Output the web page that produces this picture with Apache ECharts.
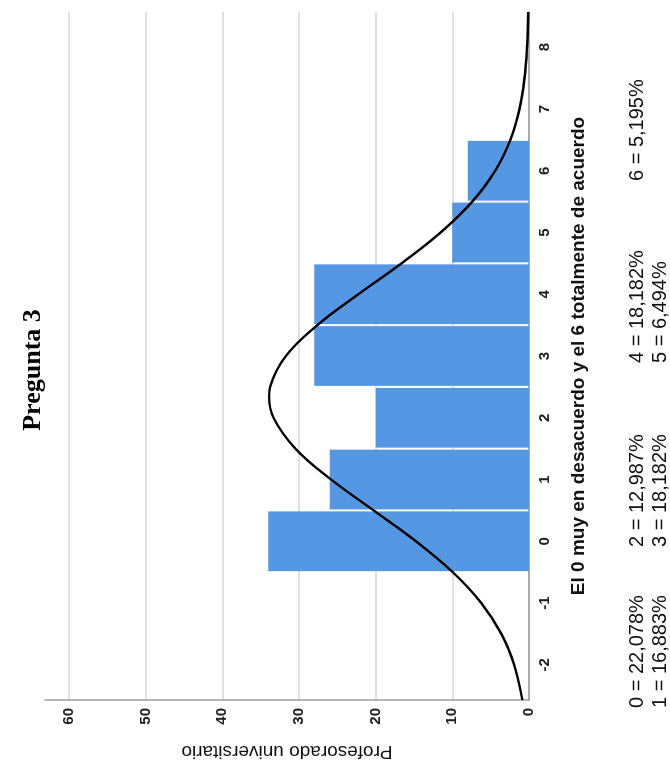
<!DOCTYPE html>
<html>
<head>
<meta charset="utf-8">
<script src="https://cdn.jsdelivr.net/npm/echarts@6/dist/echarts.min.js"></script>
<style>
  html, body { margin: 0; padding: 0; background: #ffffff; overflow: hidden; }
  #page { position: absolute; left: 0; top: 0; width: 670px; height: 765px; overflow: hidden; }
  /* the histogram is laid out landscape and turned a quarter turn counter-clockwise */
  #chart {
    position: absolute; left: 0; top: 0; width: 765px; height: 670px;
    transform-origin: 0 0; transform: translate(0, 765px) rotate(-90deg);
  }
</style>
</head>
<body>
<div id="page"><div id="chart"></div></div>
<script>
// answer scores (0 = muy en desacuerdo ... 6 = totalmente de acuerdo)
const scores = [0, 1, 2, 3, 4, 5, 6];
// respondents per score
const counts = [34, 26, 20, 28, 28, 10, 8];

// fitted normal curve, sampled along the score axis
const curveScore = [-2.57, -2, -1.5, -1, -0.5, 0, 0.5, 1, 1.5, 2, 2.34, 2.5, 3, 3.5, 4, 4.5, 5, 5.5, 6, 6.5, 7, 7.5, 8, 8.57];
const curveCount = [0.87, 1.93, 3.6, 6.22, 9.95, 14.75, 20.27, 25.81, 30.46, 33.32, 33.9, 33.76, 31.71, 27.6, 22.26, 16.64, 11.53, 7.4, 4.4, 2.43, 1.24, 0.59, 0.26, 0.09];

// tick labels
const scoreTicks = [-2, -1, 0, 1, 2, 3, 4, 5, 6, 7, 8];
const countTicks = [0, 10, 20, 30, 40, 50, 60];

// percentage footnote, one column per pair of scores
const shareColumns = [
  ['0 = 22,078%', '1 = 16,883%'],
  ['2 = 12,987%', '3 = 18,182%'],
  ['4 = 18,182%', '5 = 6,494%'],
  ['6 = 5,195%']
];
const shareColumnX = [57, 218, 402, 584];

const chart = echarts.init(document.getElementById('chart'), null, { renderer: 'canvas' });

const sans = '"Liberation Sans", Arial, sans-serif';

const footnote = [];
shareColumns.forEach(function (col, i) {
  col.forEach(function (txt, j) {
    footnote.push({
      type: 'text',
      x: shareColumnX[i],
      y: 637 + j * 23,
      style: {
        text: txt,
        font: '20px ' + sans,
        fill: '#111111',
        textAlign: 'left',
        textVerticalAlign: 'middle'
      }
    });
  });
});

chart.setOption({
  animation: false,
  backgroundColor: '#ffffff',
  grid: { left: 65, right: 12, top: 45, bottom: 141, containLabel: false, outerBoundsMode: 'none' },
  xAxis: {
    type: 'value',
    min: -2.57,
    max: 8.57,
    name: 'El 0 muy en desacuerdo y el 6 totalmente de acuerdo',
    nameLocation: 'middle',
    nameGap: 40,
    nameTextStyle: { fontFamily: sans, fontSize: 19, fontWeight: 'bold', color: '#111111' },
    axisLine: { show: true, lineStyle: { color: '#9c9c9c', width: 1.5 } },
    axisTick: { show: false, customValues: scoreTicks },
    splitLine: { show: false },
    axisLabel: {
      customValues: scoreTicks,
      fontFamily: sans, fontSize: 15, fontWeight: 'bold', color: '#222222', margin: 8
    }
  },
  yAxis: {
    type: 'value',
    min: 0,
    max: 63.13,
    name: 'Profesorado universitario',
    nameLocation: 'middle',
    nameRotate: 90,
    nameGap: 42,
    nameTextStyle: { fontFamily: sans, fontSize: 19, color: '#111111' },
    axisLine: { show: true, onZero: false, lineStyle: { color: '#9c9c9c', width: 1.5 } },
    axisTick: { show: false, customValues: countTicks },
    splitLine: { show: true, lineStyle: { color: '#d6d6d6', width: 1.5 } },
    axisLabel: {
      customValues: countTicks,
      fontFamily: sans, fontSize: 15, fontWeight: 'bold', color: '#222222', margin: 8
    }
  },
  graphic: [
    {
      type: 'text',
      x: 395,
      y: 33,
      style: {
        text: 'Pregunta 3',
        font: 'bold 26px "Liberation Serif", "Times New Roman", serif',
        fill: '#000000',
        textAlign: 'center',
        textVerticalAlign: 'middle'
      }
    }
  ].concat(footnote),
  series: [
    {
      type: 'custom',
      data: scores.map(function (s, i) { return [s, counts[i]]; }),
      encode: { x: 0, y: 1 },
      renderItem: function (params, api) {
        const s = api.value(0);
        const n = api.value(1);
        const base = api.coord([s - 0.5, 0]);
        const top = api.coord([s + 0.5, n]);
        return {
          type: 'rect',
          shape: {
            x: base[0] + 1,
            y: top[1],
            width: top[0] - base[0] - 2,
            height: base[1] - top[1]
          },
          style: { fill: '#5597e3' }
        };
      },
      z: 2
    },
    {
      type: 'line',
      data: curveScore.map(function (s, i) { return [s, curveCount[i]]; }),
      smooth: 0.4,
      showSymbol: false,
      symbol: 'none',
      lineStyle: { color: '#000000', width: 2.4 },
      z: 3
    }
  ]
});
</script>
</body>
</html>
